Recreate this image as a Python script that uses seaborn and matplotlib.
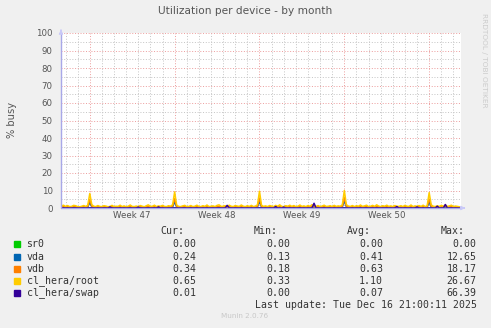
import numpy as np
import pandas as pd
import matplotlib
matplotlib.use("Agg")
import matplotlib.pyplot as plt
import seaborn as sns

# ---------------- data (percent busy, 4-hour samples) ----------------
series_names = ["sr0", "vda", "vdb", "cl_hera/root", "cl_hera/swap"]
series_colors = ["#00CC00", "#0066B3", "#FF8000", "#FFCC00", "#330099"]

sr0 = [
    0.0, 0.0, 0.0, 0.0, 0.0, 0.0, 0.0, 0.0, 0.0, 0.0, 0.0, 0.0, 0.0, 0.0,
    0.0, 0.0, 0.0, 0.0, 0.0, 0.0, 0.0, 0.0, 0.0, 0.0, 0.0, 0.0, 0.0, 0.0,
    0.0, 0.0, 0.0, 0.0, 0.0, 0.0, 0.0, 0.0, 0.0, 0.0, 0.0, 0.0, 0.0, 0.0,
    0.0, 0.0, 0.0, 0.0, 0.0, 0.0, 0.0, 0.0, 0.0, 0.0, 0.0, 0.0, 0.0, 0.0,
    0.0, 0.0, 0.0, 0.0, 0.0, 0.0, 0.0, 0.0, 0.0, 0.0, 0.0, 0.0, 0.0, 0.0,
    0.0, 0.0, 0.0, 0.0, 0.0, 0.0, 0.0, 0.0, 0.0, 0.0, 0.0, 0.0, 0.0, 0.0,
    0.0, 0.0, 0.0, 0.0, 0.0, 0.0, 0.0, 0.0, 0.0, 0.0, 0.0, 0.0, 0.0, 0.0,
    0.0, 0.0, 0.0, 0.0, 0.0, 0.0, 0.0, 0.0, 0.0, 0.0, 0.0, 0.0, 0.0, 0.0,
    0.0, 0.0, 0.0, 0.0, 0.0, 0.0, 0.0, 0.0, 0.0, 0.0, 0.0, 0.0, 0.0, 0.0,
    0.0, 0.0, 0.0, 0.0, 0.0, 0.0, 0.0, 0.0, 0.0, 0.0, 0.0, 0.0, 0.0, 0.0,
    0.0, 0.0, 0.0, 0.0, 0.0, 0.0, 0.0, 0.0, 0.0, 0.0, 0.0, 0.0, 0.0, 0.0,
    0.0, 0.0, 0.0, 0.0, 0.0, 0.0, 0.0, 0.0, 0.0, 0.0, 0.0, 0.0, 0.0, 0.0,
    0.0, 0.0, 0.0, 0.0, 0.0, 0.0, 0.0, 0.0, 0.0, 0.0, 0.0, 0.0, 0.0, 0.0,
    0.0, 0.0, 0.0, 0.0, 0.0, 0.0, 0.0, 0.0, 0.0, 0.0, 0.0, 0.0, 0.0, 0.0,
    0.0, 0.0,
]

vda = [
    0.4, 0.5, 0.3, 0.5, 0.3, 0.4, 0.5, 0.4, 0.3, 0.3, 0.4, 0.5, 0.3, 0.5,
    3.2, 0.6, 0.4, 0.3, 0.5, 0.3, 0.3, 0.4, 0.4, 0.3, 0.3, 0.5, 0.3, 0.4,
    0.3, 0.5, 0.3, 0.4, 0.3, 0.4, 0.6, 0.3, 0.3, 0.4, 0.3, 0.5, 0.4, 0.3,
    0.4, 0.6, 0.3, 0.4, 0.5, 0.3, 0.4, 0.4, 0.5, 0.3, 0.3, 0.4, 0.4, 0.6,
    3.5, 0.6, 0.3, 0.3, 0.4, 0.5, 0.3, 0.3, 0.5, 0.3, 0.4, 0.5, 0.3, 0.3,
    0.4, 0.3, 0.6, 0.3, 0.4, 0.4, 0.3, 0.5, 0.6, 0.3, 0.4, 0.4, 0.3, 0.5,
    0.4, 0.3, 0.5, 0.4, 0.3, 0.6, 0.4, 0.3, 0.4, 0.3, 0.5, 0.3, 0.4, 0.6,
    3.8, 0.6, 0.3, 0.4, 0.3, 0.5, 0.4, 0.3, 0.5, 0.4, 0.6, 0.3, 0.3, 0.4,
    0.4, 0.5, 0.3, 0.5, 0.3, 0.4, 0.6, 0.3, 0.4, 0.3, 0.5, 0.4, 0.7, 0.4,
    0.3, 0.5, 0.3, 0.4, 0.5, 0.3, 0.4, 0.4, 0.3, 0.5, 0.3, 0.4, 0.4, 0.6,
    4.1, 0.7, 0.4, 0.3, 0.5, 0.3, 0.4, 0.4, 0.6, 0.3, 0.4, 0.5, 0.3, 0.4,
    0.5, 0.3, 0.6, 0.4, 0.3, 0.4, 0.4, 0.5, 0.3, 0.4, 0.3, 0.5, 0.4, 0.3,
    0.4, 0.3, 0.5, 0.4, 0.3, 0.6, 0.3, 0.4, 0.4, 0.5, 0.3, 0.5, 0.3, 0.4,
    3.4, 0.6, 0.4, 0.3, 0.4, 0.3, 0.5, 0.4, 0.6, 0.3, 0.4, 0.5, 0.3, 0.4,
    0.3, 0.2,
]

vdb = [
    0.6, 0.9, 0.5, 0.8, 0.5, 0.6, 0.9, 0.7, 0.5, 0.4, 0.6, 0.8, 0.5, 0.9,
    4.8, 1.0, 0.6, 0.5, 0.8, 0.5, 0.5, 0.7, 0.6, 0.4, 0.5, 0.9, 0.5, 0.6,
    0.5, 0.9, 0.5, 0.7, 0.4, 0.6, 1.0, 0.5, 0.5, 0.6, 0.5, 0.8, 0.6, 0.4,
    0.7, 1.0, 0.5, 0.6, 0.9, 0.5, 0.7, 0.6, 0.8, 0.5, 0.5, 0.7, 0.6, 1.1,
    5.3, 0.9, 0.5, 0.5, 0.7, 0.8, 0.5, 0.5, 0.8, 0.5, 0.6, 0.9, 0.5, 0.5,
    0.7, 0.5, 1.0, 0.5, 0.6, 0.7, 0.5, 0.8, 1.0, 0.5, 0.6, 0.7, 0.5, 0.9,
    0.6, 0.5, 0.8, 0.6, 0.5, 1.0, 0.6, 0.5, 0.7, 0.5, 0.8, 0.5, 0.6, 1.0,
    5.6, 0.9, 0.5, 0.7, 0.5, 0.8, 0.6, 0.5, 0.9, 0.6, 1.0, 0.5, 0.5, 0.7,
    0.6, 0.9, 0.5, 0.8, 0.5, 0.6, 1.0, 0.5, 0.7, 0.5, 0.8, 0.6, 1.1, 0.7,
    0.5, 0.8, 0.5, 0.6, 0.9, 0.5, 0.6, 0.7, 0.5, 0.9, 0.5, 0.7, 0.6, 1.0,
    5.9, 1.1, 0.6, 0.5, 0.8, 0.5, 0.7, 0.6, 1.0, 0.5, 0.7, 0.9, 0.5, 0.6,
    0.8, 0.5, 1.0, 0.6, 0.5, 0.7, 0.6, 0.9, 0.5, 0.7, 0.5, 0.8, 0.6, 0.5,
    0.7, 0.5, 0.9, 0.6, 0.5, 1.0, 0.5, 0.7, 0.6, 0.8, 0.5, 0.9, 0.5, 0.7,
    5.1, 1.0, 0.6, 0.5, 0.7, 0.5, 0.9, 0.6, 1.0, 0.5, 0.7, 0.9, 0.5, 0.6,
    0.5, 0.4,
]

root = [
    1.2, 1.6, 0.9, 1.4, 0.8, 0.9, 1.5, 1.3, 0.8, 0.7, 1.0, 1.4, 0.9, 1.6,
    8.3, 1.9, 1.0, 0.8, 1.4, 0.9, 0.8, 1.3, 1.1, 0.7, 0.9, 1.5, 0.8, 1.0,
    0.9, 1.6, 0.8, 1.2, 0.7, 1.0, 1.7, 0.9, 0.8, 1.1, 0.8, 1.4, 1.0, 0.7,
    1.3, 1.8, 0.9, 1.0, 1.6, 0.8, 1.2, 1.0, 1.5, 0.9, 0.8, 1.3, 1.0, 1.9,
    9.2, 1.7, 0.9, 0.8, 1.2, 1.5, 0.8, 0.9, 1.4, 0.8, 1.0, 1.6, 0.9, 0.8,
    1.3, 0.9, 1.7, 0.8, 1.0, 1.2, 0.8, 1.5, 1.8, 0.9, 1.0, 1.3, 0.8, 1.6,
    1.0, 0.8, 1.4, 1.1, 0.9, 1.7, 1.0, 0.8, 1.3, 0.9, 1.5, 0.8, 1.1, 1.8,
    9.6, 1.6, 0.9, 1.2, 0.8, 1.4, 1.1, 0.8, 1.5, 1.0, 1.8, 0.9, 0.8, 1.3,
    1.0, 1.6, 0.9, 1.4, 0.8, 1.0, 1.7, 0.9, 1.2, 0.8, 1.4, 1.0, 1.9, 1.2,
    0.9, 1.4, 0.8, 1.1, 1.6, 0.9, 1.0, 1.3, 0.8, 1.5, 0.9, 1.2, 1.0, 1.8,
    10.0, 1.9, 1.1, 0.9, 1.4, 0.8, 1.3, 1.0, 1.7, 0.9, 1.2, 1.6, 0.8, 1.0,
    1.5, 0.9, 1.8, 1.1, 0.8, 1.3, 1.0, 1.6, 0.9, 1.2, 0.8, 1.4, 1.0, 0.9,
    1.3, 0.8, 1.5, 1.0, 0.9, 1.7, 0.8, 1.2, 1.0, 1.4, 0.9, 1.6, 0.8, 1.3,
    8.8, 1.8, 1.0, 0.8, 1.3, 0.9, 1.5, 1.0, 1.7, 0.9, 1.2, 1.6, 0.8, 1.1,
    0.9, 0.7,
]

swap = [
    0.0, 0.0, 0.0, 0.0, 0.0, 0.0, 0.0, 0.0, 0.0, 0.0, 0.0, 0.0, 0.0, 0.0,
    0.1, 0.0, 0.0, 0.0, 0.0, 0.0, 0.0, 0.0, 0.0, 0.0, 0.6, 0.0, 0.0, 0.0,
    0.0, 0.0, 0.0, 0.0, 0.0, 0.0, 0.0, 0.0, 0.0, 0.0, 0.5, 0.0, 0.0, 0.0,
    0.0, 0.0, 0.0, 0.0, 0.0, 0.0, 0.6, 0.0, 0.0, 0.0, 0.0, 0.0, 0.0, 0.0,
    0.1, 0.0, 0.0, 0.0, 0.0, 0.0, 0.0, 0.0, 0.0, 0.0, 0.0, 0.0, 0.0, 0.0,
    0.0, 0.0, 0.0, 0.0, 0.0, 0.0, 0.0, 0.0, 0.0, 0.0, 0.0, 0.0, 1.5, 0.0,
    0.0, 0.0, 0.0, 0.0, 0.0, 0.0, 0.0, 0.0, 0.0, 0.0, 0.0, 0.0, 0.0, 0.0,
    0.1, 0.0, 0.0, 0.0, 0.0, 0.0, 0.0, 0.0, 0.8, 0.0, 0.0, 0.0, 0.5, 0.0,
    0.0, 0.0, 0.0, 0.0, 0.0, 0.0, 0.0, 0.0, 0.0, 0.0, 0.0, 0.0, 0.0, 2.7,
    0.0, 0.0, 0.0, 0.0, 0.0, 0.0, 0.0, 0.0, 0.0, 0.0, 0.0, 0.0, 0.0, 0.0,
    0.1, 0.0, 0.0, 0.0, 0.0, 0.0, 0.0, 0.0, 0.0, 0.0, 0.0, 0.0, 0.0, 0.0,
    0.0, 0.0, 0.0, 0.0, 0.0, 0.0, 0.0, 0.0, 0.0, 0.0, 0.0, 0.0, 0.8, 0.0,
    0.0, 0.0, 0.0, 0.0, 0.0, 0.0, 0.0, 0.0, 0.6, 0.0, 0.0, 0.0, 0.0, 0.0,
    0.1, 0.0, 0.0, 0.0, 1.0, 0.0, 0.0, 0.0, 2.0, 0.0, 0.0, 0.0, 0.0, 0.0,
    0.0, 0.0,
]

# hours since start of the 33-day window
sample_hours = np.arange(len(root)) * 4 + 1

week_labels = ["Week 47", "Week 48", "Week 49", "Week 50"]
week_starts = [57, 225, 393, 561, 729]

legend_cur = ["0.00", "0.24", "0.34", "0.65", "0.01"]
legend_min = ["0.00", "0.13", "0.18", "0.33", "0.00"]
legend_avg = ["0.00", "0.41", "0.63", "1.10", "0.07"]
legend_max = ["0.00", "12.65", "18.17", "26.67", "66.39"]

title = "Utilization per device - by month"
ylabel = "% busy"
last_update = "Last update: Tue Dec 16 21:00:11 2025"
footer = "Munin 2.0.76"
side_text = "RRDTOOL / TOBI OETIKER"

# ---------------- figure ----------------
sns.set_style("white")
W, H = 491, 328
fig = plt.figure(figsize=(W / 100, H / 100), dpi=100, facecolor="#F0F0F0")

L, R, T, B = 61, 461, 33, 208
ax = fig.add_axes([L / W, 1 - B / H, (R - L) / W, (B - T) / H])
ax.set_facecolor("white")

x_max = 792
ax.set_xlim(0, x_max)
ax.set_ylim(0, 100)

# grids
minor_c = "#C4C4C4"
major_c = "#EC9C9C"
dot = (0, (1, 1.8))
for yv in range(5, 100, 10):
    ax.axhline(yv, color=minor_c, lw=0.7, ls=dot, zorder=0.5)
for yv in range(10, 101, 10):
    ax.axhline(yv, color=major_c, lw=0.7, ls=dot, zorder=0.6, clip_on=False)
for d in range(-2, 34):
    xv = week_starts[0] + 24 * d
    if 0 < xv < x_max and xv not in week_starts:
        ax.axvline(xv, color=minor_c, lw=0.7, ls=dot, zorder=0.5)
for xv in week_starts:
    ax.axvline(xv, color=major_c, lw=0.7, ls=dot, zorder=0.6)

data = {"sr0": sr0, "vda": vda, "vdb": vdb, "cl_hera/root": root, "cl_hera/swap": swap}
for name, col in zip(series_names, series_colors):
    df = pd.DataFrame({"hour": sample_hours, "value": data[name]})
    sns.lineplot(data=df, x="hour", y="value", ax=ax, color=col, lw=1.1,
                 estimator=None, legend=False, zorder=2)

for s in ax.spines.values():
    s.set_visible(False)

axis_c = "#A8A8E8"
ax.plot([0, 0], [0, 100], color=axis_c, lw=1.0, clip_on=False, zorder=3)
ax.plot([0, x_max], [0, 0], color=axis_c, lw=1.0, clip_on=False, zorder=3)
# arrows
ax.annotate("", xy=(0, 103.5), xytext=(0, 100), xycoords="data",
            arrowprops=dict(arrowstyle="-|>", color="#C8C8F8", lw=0.8,
                            mutation_scale=6), annotation_clip=False)
ax.annotate("", xy=(x_max + 14, 0), xytext=(x_max, 0), xycoords="data",
            arrowprops=dict(arrowstyle="-|>", color="#C8C8F8", lw=0.8,
                            mutation_scale=6), annotation_clip=False)

ax.set_xlabel("")
ax.set_ylabel("")
ax.set_yticks(range(0, 101, 10))
ax.set_yticklabels([str(v) for v in range(0, 101, 10)])
mid_weeks = [(week_starts[i] + week_starts[i + 1]) / 2 for i in range(4)]
ax.set_xticks(mid_weeks)
ax.set_xticklabels(week_labels)
ax.tick_params(axis="both", length=0, labelsize=6.2, labelcolor="#555555")
ax.tick_params(axis="y", pad=6)
ax.tick_params(axis="x", pad=2)

txt_c = "#555555"
fig.text(245 / W, 1 - 11 / H, title, ha="center", va="center", fontsize=7.6,
         color=txt_c)
fig.text(12 / W, 1 - 120 / H, ylabel, ha="center", va="center", fontsize=7.1,
         rotation=90, color=txt_c)
fig.text(484 / W, 1 - 60 / H, side_text, ha="center", va="center", fontsize=5.3,
         rotation=270, color="#CCCCCC")

mono = "DejaVu Sans Mono"
fs = 7.1
rows_y = [244, 256.5, 268.5, 280.5, 292.5]
col_x = [196.7, 290, 383, 476.7]
headers = ["Cur:", "Min:", "Avg:", "Max:"]
for cx, hd in zip(col_x, headers):
    fig.text((cx - 12.5) / W, 1 - 231.5 / H, hd, ha="right", va="center",
             family=mono, fontsize=fs, color="#333333")
cols = [legend_cur, legend_min, legend_avg, legend_max]
for i, (name, col) in enumerate(zip(series_names, series_colors)):
    y = 1 - rows_y[i] / H
    fig.patches.append(plt.Rectangle((14 / W, y - 3 / H), 6 / W, 6 / H,
                                     transform=fig.transFigure, color=col,
                                     figure=fig))
    fig.text(26.5 / W, y, name, ha="left", va="center", family=mono,
             fontsize=fs, color="#333333")
    for cx, vals in zip(col_x, cols):
        fig.text(cx / W, y, vals[i], ha="right", va="center", family=mono,
                 fontsize=fs, color="#333333")
fig.text(476.7 / W, 1 - 305 / H, last_update, ha="right", va="center",
         family=mono, fontsize=fs, color="#333333")
fig.text(245 / W, 1 - 316 / H, footer, ha="center", va="center", fontsize=5.2,
         color="#C8C8C8")

fig.savefig("out.png", dpi=100, facecolor=fig.get_facecolor())
